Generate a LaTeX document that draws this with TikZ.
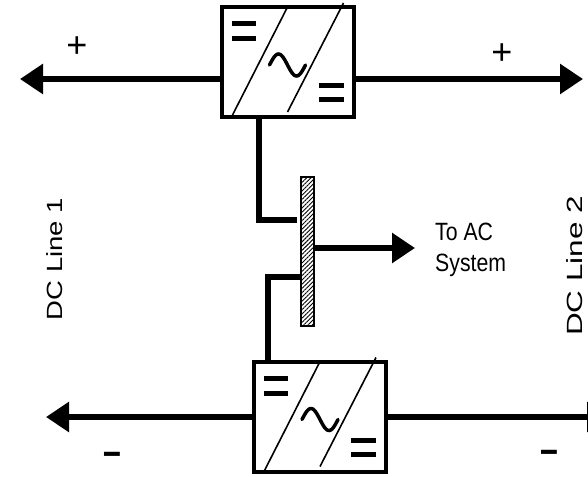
\documentclass[tikz,border=0pt]{standalone}
\usepackage{fontspec}
\setmainfont{Liberation Sans}
\usetikzlibrary{arrows.meta,patterns.meta}
\begin{document}
\begin{tikzpicture}[x=1pt,y=-1pt,
  conv/.style={draw, line width=4pt, minimum width=132pt, minimum height=110pt, inner sep=0pt, outer sep=0pt},
  wire/.style={line width=6pt},
  tipped/.style={wire, -{Triangle[length=23pt,width=29pt]}},
  thinl/.style={line width=1.6pt},
  bar/.style={line width=5pt},
  busbar/.style={draw, line width=1.2pt, pattern={Lines[angle=45,distance=3pt,line width=0.9pt]}, minimum width=13pt, minimum height=149pt, inner sep=0pt, outer sep=0pt},
  sign/.style={inner sep=0pt, font=\fontsize{36}{36}\selectfont},
  minus/.style={inner sep=0pt, font=\fontsize{32}{32}\selectfont\bfseries},
  rot/.style={inner sep=0pt, rotate=90, font=\fontsize{22}{22}\selectfont}]
\useasboundingbox (0,0) rectangle (588,476);
\clip (0,0) rectangle (588,476);

\node[conv] (conv1) at (287.5,62) {};
\node[conv] (conv2) at (320,416.5) {};
\node[busbar] (bus) at (307.5,251.5) {};

\foreach \c in {conv1,conv2}{
  \begin{scope}[shift={(\c.north west)}]
    \draw[thinl] (10,110) -- (66,0);
    \draw[thinl] (66,105) -- (122,-4);
    \draw[bar] (10,17) -- (34,17) (10,32) -- (34,32);
    \draw[bar] (97,79) -- (122,79) (97,93) -- (122,93);
    \draw[line width=3.5pt, line cap=round] plot[domain=-18:18, samples=50, smooth] ({66+\x},{58+11*sin(10*\x)});
  \end{scope}
}

\coordinate (L1) at (20,79);
\coordinate (R1) at (583,79);
\coordinate (L2) at (46,417);
\coordinate (R2) at (610,417);
\coordinate (ac) at (415,248);

\draw[tipped] (conv1.west |- L1) -- (L1);
\draw[tipped] (conv1.east |- R1) -- (R1);
\draw[tipped] (conv2.west |- L2) -- (L2);
\draw[tipped] (conv2.east |- R2) -- (R2);

\draw[wire, shorten >=4pt] (conv1.south -| 259,0) |- (bus.west |- 0,220);
\draw[wire] (bus.west |- 0,277) -| (conv2.north -| 268,0);
\draw[tipped] (bus.east |- ac) -- (ac);

\node[inner sep=0pt, anchor=base west, font=\fontsize{25}{31}\selectfont] (actext) at (435,240)
  {\scalebox{0.85}[1]{\begin{tabular}[t]{@{}l@{}}To AC\\System\end{tabular}}};

\node[sign] (p1) at (77,47) {+};
\node[sign] (p2) at (502,54) {+};
\node[minus, anchor=base] (m1) at (112,465) {\scalebox{1}[1.3]{–}};
\node[minus, anchor=base] (m2) at (549.5,463.5) {\scalebox{1}[1.3]{–}};

\node[rot] (dc1) at (55,259) {\scalebox{1.25}[1]{DC Line 1}};
\node[rot] (dc2) at (575,266) {\scalebox{1.43}[1]{DC Line 2}};
\end{tikzpicture}
\end{document}
